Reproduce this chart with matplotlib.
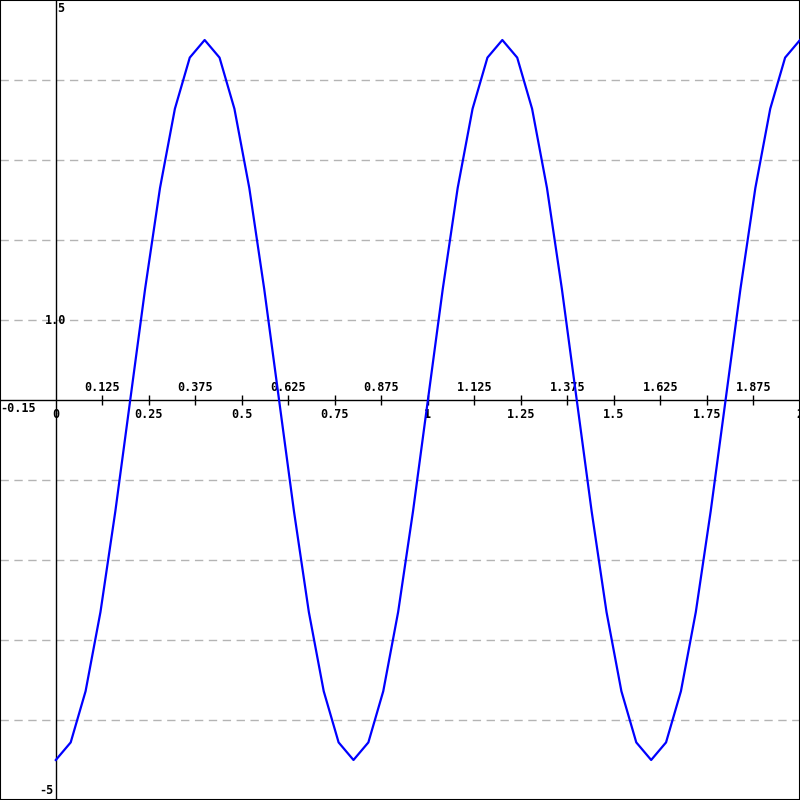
import matplotlib
matplotlib.use("Agg")
import matplotlib.pyplot as plt

xs = [0.00, 0.04, 0.08, 0.12, 0.16, 0.20, 0.24, 0.28, 0.32, 0.36,
      0.40, 0.44, 0.48, 0.52, 0.56, 0.60, 0.64, 0.68, 0.72, 0.76,
      0.80, 0.84, 0.88, 0.92, 0.96, 1.00, 1.04, 1.08, 1.12, 1.16,
      1.20, 1.24, 1.28, 1.32, 1.36, 1.40, 1.44, 1.48, 1.52, 1.56,
      1.60, 1.64, 1.68, 1.72, 1.76, 1.80, 1.84, 1.88, 1.92, 1.96,
      2.00]
ys = [-4.50, -4.28, -3.64, -2.65, -1.39, 0.00, 1.39, 2.65, 3.64, 4.28,
      4.50, 4.28, 3.64, 2.65, 1.39, 0.00, -1.39, -2.65, -3.64, -4.28,
      -4.50, -4.28, -3.64, -2.65, -1.39, 0.00, 1.39, 2.65, 3.64, 4.28,
      4.50, 4.28, 3.64, 2.65, 1.39, 0.00, -1.39, -2.65, -3.64, -4.28,
      -4.50, -4.28, -3.64, -2.65, -1.39, 0.00, 1.39, 2.65, 3.64, 4.28,
      4.50]

xticks = [0.125, 0.25, 0.375, 0.5, 0.625, 0.75, 0.875, 1.0,
          1.125, 1.25, 1.375, 1.5, 1.625, 1.75, 1.875, 2.0]
xlabels = ["0.125", "0.25", "0.375", "0.5", "0.625", "0.75", "0.875", "1",
           "1.125", "1.25", "1.375", "1.5", "1.625", "1.75", "1.875", "2"]
grid_y = [-4, -3, -2, -1, 1, 2, 3, 4]

xmin, xmax = -0.15, 2.0
ymin, ymax = -5, 5

fig = plt.figure(figsize=(8, 8), dpi=100)
ax = fig.add_axes([0, 0, 1, 1])
ax.set_xlim(xmin, xmax)
ax.set_ylim(ymin, ymax)
ax.set_xticks([])
ax.set_yticks([])
for s in ax.spines.values():
    s.set_color("black")
    s.set_linewidth(1.5)

## dashed horizontal grid
for g in grid_y:
    ax.axhline(g, color="#b4b4b4", lw=1, ls=(0, (6, 4)), zorder=1)

## axes through zero
ax.axhline(0, color="black", lw=1, zorder=2)
ax.axvline(0, color="black", lw=1, zorder=2)
ax.vlines(xticks, -0.06, 0.06, color="black", lw=1, zorder=2)

font = dict(family="DejaVu Sans Mono", weight="bold", fontsize=8.5, color="black")

for i, (t, lab) in enumerate(zip(xticks, xlabels)):
    if i % 2 == 0:
        ax.text(t, 0.07, lab, ha="center", va="bottom", clip_on=True, **font)
    else:
        ax.text(t, -0.1, lab, ha="center", va="top", clip_on=True, **font)
ax.text(0, -0.1, "0", ha="center", va="top", **font)
ax.text(xmin, -0.02, "-0.15", ha="left", va="top", **font)

ax.text(0.003, 4.97, "5", ha="left", va="top", **font)
ax.text(0, 0.99, "1.0", ha="center", va="center", **font)
ax.text(-0.005, -4.96, "-5", ha="right", va="bottom", **font)

ax.plot(xs, ys, color="#0000ff", lw=1.6, zorder=3, clip_on=True)

fig.savefig("out.png", dpi=100)
